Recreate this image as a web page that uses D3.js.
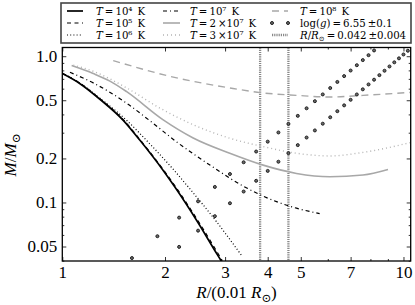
<!DOCTYPE html>
<html><head><meta charset="utf-8">
<script src="https://cdn.jsdelivr.net/npm/d3@7"></script>
<style>
html,body{margin:0;padding:0;background:#fff;}
svg text{font-family:"Liberation Serif","DejaVu Serif",serif;white-space:pre;}
svg text.leg{font-family:"DejaVu Serif",serif;}
</style></head>
<body><svg id="c" width="415" height="305"></svg>
<script>
// ---- data (R in 0.01 Rsun, M in Msun) ----
const r_T1e4 = [1.0, 1.127, 1.289, 1.509, 1.689, 1.976, 2.138, 2.485, 2.844, 2.93];
const m_T1e4 = [0.761, 0.649, 0.508, 0.3645, 0.266, 0.1654, 0.1274, 0.0744, 0.0442, 0.0395];
const r_T1e5 = [1.0, 1.127, 1.289, 1.509, 1.689, 1.976, 2.138, 2.485, 2.844, 2.945];
const m_T1e5 = [0.764, 0.653, 0.512, 0.368, 0.269, 0.168, 0.130, 0.0765, 0.0458, 0.0400];
const r_T1e6 = [1.0, 1.127, 1.289, 1.539, 1.759, 2.123, 2.342, 2.825, 3.352];
const m_T1e6 = [0.767, 0.654, 0.516, 0.367, 0.268, 0.1667, 0.1274, 0.0744, 0.0435];
const r_T1e7 = [1.053, 1.232, 1.544, 1.806, 2.163, 2.707, 3.39, 4.245, 4.858, 5.68];
const m_T1e7 = [0.776, 0.657, 0.477, 0.362, 0.2595, 0.1804, 0.1294, 0.1013, 0.0914, 0.084];
const r_T2e7 = [1.065, 1.232, 1.379, 1.544, 1.976, 2.419, 3.097, 3.879, 4.858, 6.08, 7.61, 9.01];
const m_T2e7 = [0.863, 0.761, 0.676, 0.572, 0.367, 0.276, 0.217, 0.180, 0.158, 0.150, 0.154, 0.168];
const r_T3e7 = [1.077, 1.232, 1.544, 1.932, 2.419, 3.097, 3.879, 4.858, 6.08, 7.61, 10.5];
const m_T3e7 = [0.870, 0.789, 0.607, 0.442, 0.340, 0.275, 0.241, 0.217, 0.208, 0.220, 0.257];
const r_T1e8 = [1.41, 2.067, 3.097, 3.879, 4.858, 6.08, 7.61, 10.5];
const m_T1e8 = [0.934, 0.729, 0.607, 0.561, 0.540, 0.526, 0.540, 0.566];
// log(g) = 6.65 and 6.45 points
const r_gHi = [1.6,1.9,2.2,2.5,2.8,3.1,3.4,3.7,4.0,4.3,4.6,4.9,5.2,5.5,5.8,6.1,6.4,6.7,7.0,7.3,7.6,7.9,8.2];
const m_gHi = [0.0417,0.0588,0.0788,0.1018,0.1277,0.1565,0.1883,0.2230,0.2606,0.3011,0.3446,0.3910,0.4404,0.4927,0.5479,0.6060,0.6671,0.7311,0.7980,0.8679,0.9407,1.0164,1.0951];
const r_gLo = [2.2,2.5,2.8,3.1,3.4,3.7,4.0,4.3,4.6,4.9,5.2,5.5,5.8,6.1,6.4,6.7,7.0,7.3,7.6,7.9,8.2,8.5,8.8,9.1,9.4,9.7,10.0,10.3];
const m_gLo = [0.0497,0.0642,0.0806,0.0988,0.1188,0.1407,0.1644,0.1900,0.2174,0.2467,0.2779,0.3109,0.3457,0.3824,0.4209,0.4613,0.5035,0.5476,0.5936,0.6413,0.6910,0.7424,0.7958,0.8510,0.9080,0.9669,1.0276,1.0902];
// radius constraint R/Rsun = 0.042 +- 0.004
const r_bounds = [3.8, 4.6];
// ticks
const xMajor = [1,2,3,4,5,7,10];
const xMajorLabels = ["1","2","3","4","5","7","10"];
const xMinor = [6,8,9];
const yMajor = [0.05,0.1,0.2,0.5,1.0];
const yMajorLabels = ["0.05","0.1","0.2","0.5","1.0"];
const yMinor = [0.04,0.06,0.07,0.08,0.09,0.3,0.4,0.6,0.7,0.8,0.9];
// legend
const legendLabels = [
 "*T*\u2009=\u200910⁴\u2002K","*T*\u2009=\u200910⁵\u2002K","*T*\u2009=\u200910⁶\u2002K",
 "*T*\u2009=\u200910⁷\u2002K","*T*\u2009=\u20092\u2009×10⁷\u2002K","*T*\u2009=\u20093\u2009×10⁷\u2002K",
 "*T*\u2009=\u200910⁸\u2002K","log(*g*)\u2009=\u20096.55\u2009±0.1","*R*/*R*_⊙_\u2009=\u20090.042\u2009±0.004"];

// ---- layout ----
const L=62.3, R=410.7, T=47.5, B=261;
const svg=d3.select("#c");
const x=d3.scaleLog().domain([1,10.5]).range([L,R]);
const y=d3.scaleLog().domain([0.0398,1.147]).range([B,T]);

function rich(sel, str, fs){
  const parts=str.split(/(\*[^*]+\*|\^[^^]+\^|_[^_]+_)/).filter(s=>s.length);
  let shift=0;
  parts.forEach(p=>{
    let txt=p, target=0, size=fs, it=false;
    if(p[0]==='*'){txt=p.slice(1,-1);it=true;}
    else if(p[0]==='^'){txt=p.slice(1,-1);target=-0.4*fs;size=0.68*fs;}
    else if(p[0]==='_'){txt=p.slice(1,-1);target=0.22*fs;size=0.68*fs;}
    const t=sel.append("tspan").text(txt).attr("font-size",size).attr("dy",target-shift);
    if(it) t.attr("font-style","italic");
    shift=target;
  });
}

const series=[
 {r:r_T1e4,m:m_T1e4,color:"#000",w:1.7,dash:null},
 {r:r_T1e5,m:m_T1e5,color:"#000",w:1.2,dash:"4,3.5"},
 {r:r_T1e6,m:m_T1e6,color:"#000",w:1.2,dash:"1,2.2"},
 {r:r_T1e7,m:m_T1e7,color:"#000",w:1.2,dash:"4,3,1,3"},
 {r:r_T2e7,m:m_T2e7,color:"#a8a8a8",w:1.6,dash:null},
 {r:r_T3e7,m:m_T3e7,color:"#b4b4b4",w:1.4,dash:"1,3"},
 {r:r_T1e8,m:m_T1e8,color:"#a8a8a8",w:1.4,dash:"7,5"}
];
const vColor="#888", vW=2.3, vDash="1.2,1";
const dotFill="#6a6a6a", dotStroke="#222";

svg.append("clipPath").attr("id","clip").append("rect")
  .attr("x",L).attr("y",T).attr("width",R-L).attr("height",B-T);
const g=svg.append("g").attr("clip-path","url(#clip)");

// vertical radius bounds
g.selectAll("line.vb").data(r_bounds).enter().append("line")
 .attr("x1",d=>x(d)).attr("x2",d=>x(d)).attr("y1",T).attr("y2",B)
 .attr("stroke",vColor).attr("stroke-width",vW).attr("stroke-dasharray",vDash);

const line=d3.line().curve(d3.curveMonotoneX);
series.forEach(s=>{
  const pts=s.r.map((r,i)=>[x(r),y(s.m[i])]);
  g.append("path").attr("d",line(pts)).attr("fill","none")
   .attr("stroke",s.color).attr("stroke-width",s.w)
   .attr("stroke-dasharray",s.dash);
});

function dots(rs,ms){
  g.selectAll(null).data(rs.map((r,i)=>[r,ms[i]])).enter().append("circle")
   .attr("cx",d=>x(d[0])).attr("cy",d=>y(d[1])).attr("r",1.5)
   .attr("fill",dotFill).attr("stroke",dotStroke).attr("stroke-width",1);
}
dots(r_gHi,m_gHi); dots(r_gLo,m_gLo);

// axes
function styleAxis(a){a.select(".domain").remove();a.selectAll("line").attr("stroke","#000").attr("stroke-width",0.8);}
const fsTick=17;
const xb=svg.append("g").attr("transform",`translate(0,${B})`)
 .call(d3.axisBottom(x).tickValues(xMajor).tickSize(-4).tickPadding(5).tickFormat((d,i)=>xMajorLabels[i]));
styleAxis(xb);
svg.append("g").attr("transform",`translate(0,${B})`).call(d3.axisBottom(x).tickValues(xMinor).tickSize(-2).tickFormat("")).call(styleAxis);
svg.append("g").attr("transform",`translate(0,${T})`).call(d3.axisTop(x).tickValues(xMajor).tickSize(-4).tickFormat("")).call(styleAxis);
svg.append("g").attr("transform",`translate(0,${T})`).call(d3.axisTop(x).tickValues(xMinor).tickSize(-2).tickFormat("")).call(styleAxis);
const yl=svg.append("g").attr("transform",`translate(${L},0)`)
 .call(d3.axisLeft(y).tickValues(yMajor).tickSize(-4).tickPadding(5).tickFormat((d,i)=>yMajorLabels[i]));
styleAxis(yl);
svg.append("g").attr("transform",`translate(${L},0)`).call(d3.axisLeft(y).tickValues(yMinor).tickSize(-2).tickFormat("")).call(styleAxis);
svg.append("g").attr("transform",`translate(${R},0)`).call(d3.axisRight(y).tickValues(yMajor).tickSize(-4).tickFormat("")).call(styleAxis);
svg.append("g").attr("transform",`translate(${R},0)`).call(d3.axisRight(y).tickValues(yMinor).tickSize(-2).tickFormat("")).call(styleAxis);
svg.selectAll(".tick text").attr("font-family","Liberation Serif, DejaVu Serif, serif").attr("font-size",fsTick).attr("fill","#000");

svg.append("rect").attr("x",L).attr("y",T).attr("width",R-L).attr("height",B-T)
 .attr("fill","none").attr("stroke","#000").attr("stroke-width",1.3);

// axis titles
const xt=svg.append("text").attr("x",(L+R)/2).attr("y",298).attr("text-anchor","middle").attr("font-size",17);
rich(xt,"*R*/(0.01 *R*_⊙_)",17);
const yt=svg.append("text").attr("transform","translate(16,155) rotate(-90)").attr("text-anchor","middle").attr("font-size",17);
rich(yt,"*M*/*M*_⊙_",17);

// legend
const lg=svg.append("g");
lg.append("rect").attr("x",61).attr("y",3).attr("width",350).attr("height",40)
 .attr("fill","#fff").attr("stroke","#444").attr("stroke-width",1.6);
const colX=[[67,83,96],[163,180,190],[272,288,300]];
const rowY=[11,23,35];
const legFs=10.2;
const handles=[...series.map(s=>({type:"line",color:s.color,w:s.w,dash:s.dash})),
  {type:"dots"},{type:"line",color:vColor,w:vW,dash:vDash}];
legendLabels.forEach((lab,i)=>{
  const c=colX[Math.floor(i/3)], yy=rowY[i%3], h=handles[i];
  if(h.type==="line"){
    lg.append("line").attr("x1",c[0]).attr("x2",c[1]).attr("y1",yy).attr("y2",yy)
      .attr("stroke",h.color).attr("stroke-width",h.w).attr("stroke-dasharray",h.dash);
  } else {
    [c[0],c[1]].forEach(xx=>lg.append("circle").attr("cx",xx).attr("cy",yy).attr("r",1.5)
      .attr("fill",dotFill).attr("stroke",dotStroke).attr("stroke-width",1));
  }
  const t=lg.append("text").attr("class","leg").attr("x",c[2]).attr("y",yy+3.7).attr("font-size",legFs);
  rich(t,lab,legFs);
});
</script></body></html>
